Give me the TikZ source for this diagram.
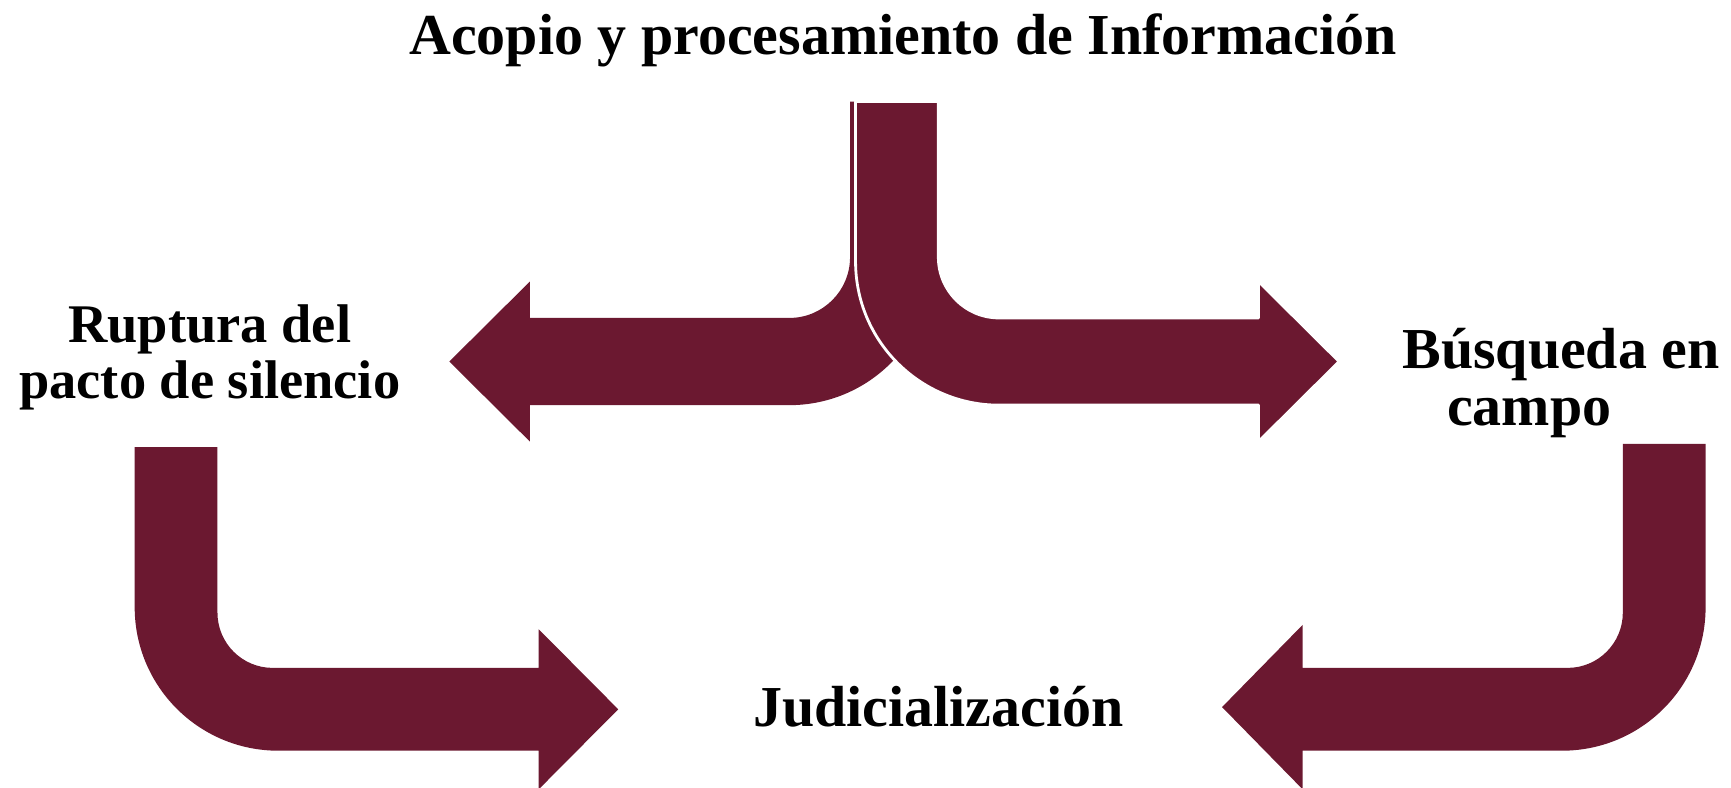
\documentclass[tikz,border=0pt]{standalone}
\usepackage{fontspec}
\setmainfont{Liberation Serif}
\usepackage{tikz}
\usetikzlibrary{positioning}

\begin{document}
\begin{tikzpicture}[
    x=0.01104cm, y=-0.01104cm,
    line join=round,
    %styles
    block arrow/.style={fill=guinda},
    seam/.style={draw=white, line width=0.8pt},
    label text/.style={font=\fontsize{16.5}{16}\selectfont\bfseries, align=center, inner sep=0pt},
  ]
  %colors
  \definecolor{guinda}{HTML}{6B1830}
  \useasboundingbox (0,0) rectangle (1568,713);

  % upper pair of arrows (left one lies under the right one)
  \fill[block arrow] (770,92) -- (845,92) -- (845,237)
  .. controls (845,308.8) and (786.8,367) .. (715,367) -- (480,367) -- (480,400)
  -- (407,327.5) -- (480,255) -- (480,288) -- (715,288)
  .. controls (745.4,288) and (770,263.4) .. (770,233) -- cycle;
  \filldraw[block arrow, seam] (775,92) -- (850,92) -- (850,233)
  .. controls (850,263.4) and (874.6,288) .. (905,288) -- (1140,288) -- (1140,255)
  -- (1213,327.5) -- (1140,400) -- (1140,367) -- (905,367)
  .. controls (833.2,367) and (775,308.8) .. (775,237) -- cycle;

  % lower left arrow
  \fill[block arrow] (122,405) -- (197,405) -- (197,555)
  .. controls (197,582.6) and (219.4,605) .. (247,605) -- (488,605) -- (488,570)
  -- (560,642.5) -- (488,715) -- (488,680) -- (252,680)
  .. controls (180.2,680) and (122,621.8) .. (122,550) -- cycle;

  % lower right arrow
  \fill[block arrow] (1545,402) -- (1470,402) -- (1470,555)
  .. controls (1470,582.6) and (1447.6,605) .. (1420,605) -- (1180,605) -- (1180,566)
  -- (1107,640.5) -- (1180,715) -- (1180,680) -- (1415,680)
  .. controls (1486.8,680) and (1545,621.8) .. (1545,550) -- cycle;

  % labels
  \node[label text] (acopio) at (818,37) {Acopio y procesamiento de Información};
  \node[label text, font=\fontsize{15.5}{16}\selectfont\bfseries] (ruptura) at (190,324) {Ruptura del\\pacto de silencio};
  \node[label text] (busqueda) at (1414,347) {Búsqueda en\\campo\hspace*{1.1em}};
  \node[label text] (judicial) at (850,640) {Judicialización};
\end{tikzpicture}
\end{document}
